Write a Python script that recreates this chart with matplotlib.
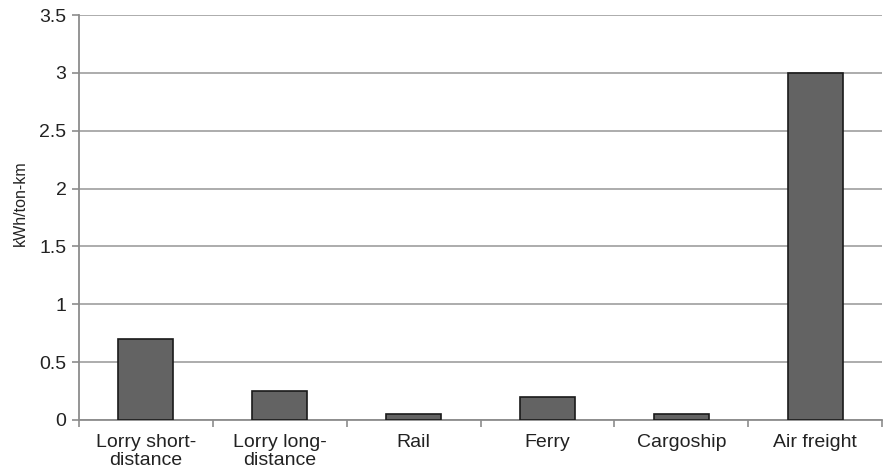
import numpy as np
import matplotlib.pyplot as plt

plt.rcParams['font.family'] = ['Liberation Sans', 'DejaVu Sans']

# data
modes = ["Lorry short-\ndistance", "Lorry long-\ndistance", "Rail", "Ferry", "Cargoship", "Air freight"]
energy = [0.7, 0.25, 0.05, 0.2, 0.05, 3.0]
yticks = [0, 0.5, 1, 1.5, 2, 2.5, 3, 3.5]
yticklabels = ["0", "0.5", "1", "1.5", "2", "2.5", "3", "3.5"]

fig = plt.figure(figsize=(8.83, 4.75), dpi=100)
ax = fig.add_axes([79 / 883, 55 / 475, 1 - 79 / 883 - 0.001, 405 / 475])

x = np.arange(len(modes))
ax.bar(x, energy, width=0.41, color='#636363', edgecolor='#1a1a1a', linewidth=1.2, zorder=3)

ax.set_xlim(-0.5, len(modes) - 0.5)
ax.set_ylim(0, 3.5)
ax.set_yticks(yticks)
ax.set_yticklabels(yticklabels, fontsize=14, color='#222222')
ax.yaxis.grid(True, color='#a6a6a6', linewidth=1.3, zorder=0)

ax.set_xticks(x)
ax.set_xticklabels(modes, fontsize=14, color='#222222', linespacing=1.05)
ax.tick_params(axis='x', length=0, pad=10)
ax.set_xticks(np.arange(-0.5, len(modes)), minor=True)
ax.tick_params(axis='x', which='minor', length=5, color='#8c8c8c', width=1.2)
ax.tick_params(axis='y', length=5, color='#8c8c8c', width=1.2, pad=4)

for s in ['top', 'right']:
    ax.spines[s].set_visible(False)
for s in ['left', 'bottom']:
    ax.spines[s].set_color('#8c8c8c')
    ax.spines[s].set_linewidth(1.3)

ax.set_ylabel("kWh/ton-km", fontsize=11.5, color='#222222')
ax.yaxis.set_label_coords(-0.064, 0.536)

fig.savefig("out.png", dpi=100)
